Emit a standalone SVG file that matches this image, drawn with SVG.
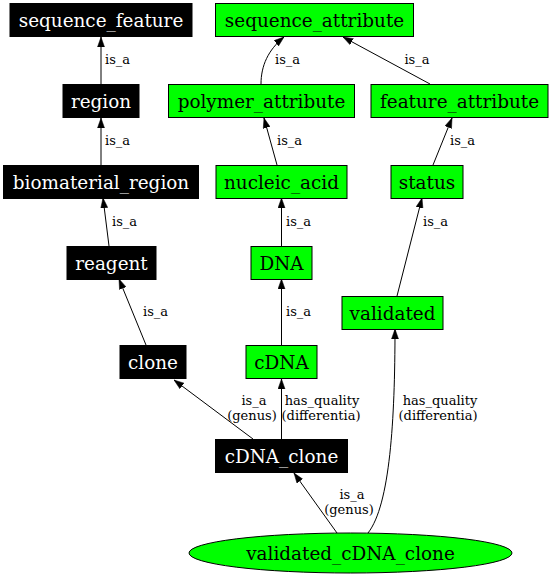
<svg xmlns="http://www.w3.org/2000/svg" width="551" height="576" viewBox="0 0 551 576">
<style>
.bk rect{fill:#000;stroke:#000;stroke-width:1}
.gr rect,.gr ellipse{fill:#00ff00;stroke:#000;stroke-width:1}
.bk text{fill:#fff}
.node text{font-family:"DejaVu Serif",serif;font-size:18.4px;text-anchor:middle}
.edges path{fill:none;stroke:#000;stroke-width:1}
.lbl{font-family:"DejaVu Serif",serif;font-size:13px;fill:#000}
.mid{text-anchor:middle}
</style>
<defs>
<marker id="ah" markerUnits="userSpaceOnUse" markerWidth="10" markerHeight="8" refX="10" refY="3.5" orient="auto" viewBox="0 0 10 7">
<path d="M0,0 L10,3.5 L0,7 z" fill="#000" stroke="#000" stroke-width="0.5"/>
</marker>
</defs>
<rect width="551" height="576" fill="#fff"/>
<g id="edges" class="edges">
<path d="M101,84 L101,37" marker-end="url(#ah)"/>
<path d="M101,165 L101,118" marker-end="url(#ah)"/>
<path d="M109,246 L103,198" marker-end="url(#ah)"/>
<path d="M146,345 L119,279" marker-end="url(#ah)"/>
<path d="M253,439 L174,380" marker-end="url(#ah)"/>
<path d="M281.5,439 L281.5,379" marker-end="url(#ah)"/>
<path d="M337,533 L294,473" marker-end="url(#ah)"/>
<path d="M368,533 C390,505 395,420 395,329" marker-end="url(#ah)"/>
<path d="M281.5,247 L281.5,198" marker-end="url(#ah)"/>
<path d="M281.5,346 L281.5,279" marker-end="url(#ah)"/>
<path d="M277,165 L264,118" marker-end="url(#ah)"/>
<path d="M261,84 C261,66 268,50 284,37" marker-end="url(#ah)"/>
<path d="M430,84 L343,37" marker-end="url(#ah)"/>
<path d="M433,165 L452,118" marker-end="url(#ah)"/>
<path d="M397,296 L422,198" marker-end="url(#ah)"/>
<text class="lbl" x="105" y="64">is_a</text>
<text class="lbl" x="105" y="145">is_a</text>
<text class="lbl" x="112" y="226">is_a</text>
<text class="lbl" x="143" y="316">is_a</text>
<text class="lbl mid" x="254" y="405">is_a</text>
<text class="lbl mid" x="252" y="419.5">(genus)</text>
<text class="lbl mid" x="322" y="405">has_quality</text>
<text class="lbl mid" x="321" y="419.5">(differentia)</text>
<text class="lbl mid" x="352" y="499">is_a</text>
<text class="lbl mid" x="349" y="513.5">(genus)</text>
<text class="lbl mid" x="440" y="405">has_quality</text>
<text class="lbl mid" x="438" y="419.5">(differentia)</text>
<text class="lbl" x="286" y="226">is_a</text>
<text class="lbl" x="286" y="316">is_a</text>
<text class="lbl" x="277" y="145">is_a</text>
<text class="lbl" x="275" y="64">is_a</text>
<text class="lbl mid" x="417" y="64">is_a</text>
<text class="lbl" x="450" y="145">is_a</text>
<text class="lbl" x="423" y="226">is_a</text>
</g>
<g id="sequence_feature" class="node bk"><rect x="10" y="3.5" width="182" height="33"/><text x="101" y="26.5">sequence_feature</text></g>
<g id="region" class="node bk"><rect x="63" y="84.5" width="76" height="33"/><text x="101" y="107.5">region</text></g>
<g id="biomaterial_region" class="node bk"><rect x="3.5" y="165.5" width="195" height="33"/><text x="101" y="188.5">biomaterial_region</text></g>
<g id="reagent" class="node bk"><rect x="67" y="246.5" width="89" height="33"/><text x="111.5" y="269.5">reagent</text></g>
<g id="clone" class="node bk"><rect x="120" y="345.5" width="66" height="33"/><text x="153" y="368.5">clone</text></g>
<g id="cDNA_clone" class="node bk"><rect x="215.5" y="439.5" width="132" height="33"/><text x="281.5" y="462.5">cDNA_clone</text></g>
<g id="sequence_attribute" class="node gr"><rect x="215.5" y="3.5" width="198" height="33"/><text x="314.5" y="26.5">sequence_attribute</text></g>
<g id="polymer_attribute" class="node gr"><rect x="168.5" y="84.5" width="186" height="33"/><text x="261.5" y="107.5">polymer_attribute</text></g>
<g id="feature_attribute" class="node gr"><rect x="371" y="84.5" width="177" height="33"/><text x="459.5" y="107.5">feature_attribute</text></g>
<g id="nucleic_acid" class="node gr"><rect x="216" y="165.5" width="131" height="33"/><text x="281.5" y="188.5">nucleic_acid</text></g>
<g id="status" class="node gr"><rect x="391" y="165.5" width="72" height="33"/><text x="427" y="188.5">status</text></g>
<g id="DNA" class="node gr"><rect x="251" y="246.5" width="61" height="33"/><text x="281.5" y="269.5">DNA</text></g>
<g id="validated" class="node gr"><rect x="342" y="296.5" width="101" height="33"/><text x="392.5" y="319.5">validated</text></g>
<g id="cDNA" class="node gr"><rect x="246" y="345.5" width="71" height="33"/><text x="281.5" y="368.5">cDNA</text></g>
<g id="validated_cDNA_clone" class="node gr"><ellipse cx="350.5" cy="553" rx="161.5" ry="20"/><text x="350.5" y="559.5">validated_cDNA_clone</text></g>
</svg>
